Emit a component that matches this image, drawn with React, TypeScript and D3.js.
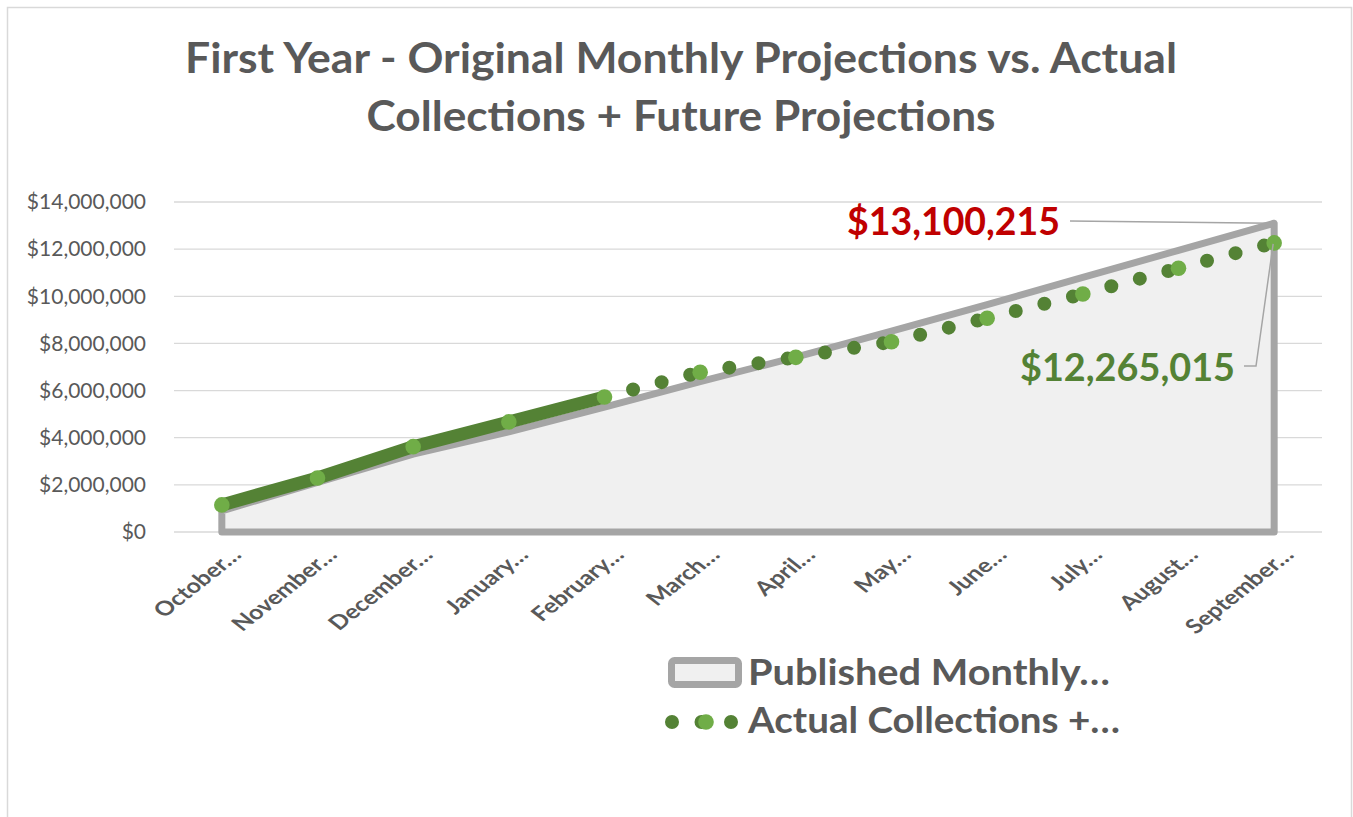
import React from "react";
import * as d3 from "d3";

const months = [
  "October…",
  "November…",
  "December…",
  "January…",
  "February…",
  "March…",
  "April…",
  "May…",
  "June…",
  "July…",
  "August…",
  "September…",
];

// Published monthly projections (cumulative)
const published = [
  900000, 2100000, 3300000, 4250000, 5300000, 6380000, 7420000, 8520000,
  9650000, 10800000, 11950000, 13100215,
];

// Actual collections + future projections (cumulative)
const actual = [
  1150000, 2290000, 3620000, 4670000, 5730000, 6780000, 7410000, 8070000,
  9070000, 10100000, 11190000, 12265015,
];

// number of months that are actual collections (solid line)
const actualMonths = 5;

const yTicks = [0, 2000000, 4000000, 6000000, 8000000, 10000000, 12000000, 14000000];

const titleLines = [
  "First Year - Original Monthly Projections vs. Actual",
  "Collections + Future Projections",
];
const legendLabels = ["Published Monthly…", "Actual Collections +…"];

const GRAY = "#A5A5A5";
const DARK_GREEN = "#548235";
const LIGHT_GREEN = "#70AD47";
const TEXT = "#595959";
const FONT = "Lato, 'Open Sans', sans-serif";

export default function App() {
  const W = 1353;
  const H = 817;
  const x = d3.scalePoint<string>().domain(months).range([174, 1322]).padding(0.5);
  const y = d3.scaleLinear().domain([0, 14000000]).range([532, 202]);
  const fmt = (v: number) => "$" + d3.format(",")(v);

  const areaGen = d3
    .area<number>()
    .x((_, i) => x(months[i]) as number)
    .y0(y(0))
    .y1((d) => y(d));
  const lineGen = d3
    .line<number>()
    .x((_, i) => x(months[i]) as number)
    .y((d) => y(d));

  const solidPts = actual.slice(0, actualMonths);
  const solidPath = lineGen(solidPts) as string;

  // dotted segments, each drawn separately (pattern restarts per segment)
  const dotSegs: string[] = [];
  for (let i = actualMonths - 1; i < actual.length - 1; i++) {
    const x0 = x(months[i]) as number;
    const x1 = x(months[i + 1]) as number;
    dotSegs.push(`M${x0},${y(actual[i])}L${x1},${y(actual[i + 1])}`);
  }

  const lastIdx = months.length - 1;
  const lastX = x(months[lastIdx]) as number;
  const pubLastY = y(published[lastIdx]);
  const actLastY = y(actual[lastIdx]);

  return (
    <svg
      width={W}
      height={H}
      style={{ position: "absolute", left: 0, top: 0, display: "block", background: "#fff" }}
      fontFamily={FONT}
    >
      <rect x={7.5} y={7.5} width={1344} height={830} fill="#fff" stroke="#D9D9D9" strokeWidth={1.5} />

      {/* title */}
      <text x={681} y={73} textAnchor="middle" fontSize={42} fontWeight="bold" fill={TEXT} textLength={992} lengthAdjust="spacingAndGlyphs">
        {titleLines[0]}
      </text>
      <text x={681} y={131} textAnchor="middle" fontSize={42} fontWeight="bold" fill={TEXT} textLength={629} lengthAdjust="spacingAndGlyphs">
        {titleLines[1]}
      </text>

      {/* gridlines & y-axis labels */}
      {yTicks.map((t) => (
        <g key={t}>
          <line x1={174} x2={1322} y1={y(t)} y2={y(t)} stroke="#D9D9D9" strokeWidth={1.3} />
          <text x={146} y={y(t)} dy="0.35em" textAnchor="end" fontSize={21} fill={TEXT}>
            {fmt(t)}
          </text>
        </g>
      ))}

      {/* published area */}
      <path d={areaGen(published) as string} fill="#F0F0F0" stroke={GRAY} strokeWidth={7} strokeLinejoin="round" />

      {/* actual solid line */}
      <path d={solidPath} fill="none" stroke={DARK_GREEN} strokeWidth={13} strokeLinecap="round" strokeLinejoin="round" />

      {/* projected dotted line */}
      {dotSegs.map((d, i) => (
        <path key={i} d={d} fill="none" stroke={DARK_GREEN} strokeWidth={14} strokeLinecap="round" strokeDasharray="0 29.5" />
      ))}

      {/* markers */}
      {actual.map((v, i) => (
        <circle key={i} cx={x(months[i]) as number} cy={y(v)} r={7.8} fill={LIGHT_GREEN} />
      ))}

      {/* x labels */}
      {months.map((m) => (
        <text
          key={m}
          transform={`translate(${(x(m) as number) + 21},556) scale(1.26,1) rotate(-45)`}
          textAnchor="end"
          fontSize={20}
          fontWeight="bold"
          fill={TEXT}
        >
          {m}
        </text>
      ))}

      {/* data labels */}
      <polyline points={`1070,221 ${lastX - 1},${pubLastY}`} fill="none" stroke={GRAY} strokeWidth={1.5} />
      <text x={847} y={235} fontSize={39} fontWeight="bold" fill="#C00000" textLength={213} lengthAdjust="spacingAndGlyphs">
        {fmt(published[lastIdx])}
      </text>
      <polyline points={`1244,366 1256,366 ${lastX - 1},${actLastY + 1}`} fill="none" stroke={GRAY} strokeWidth={1.5} />
      <text x={1020} y={381} fontSize={39} fontWeight="bold" fill={DARK_GREEN} textLength={215} lengthAdjust="spacingAndGlyphs">
        {fmt(actual[lastIdx])}
      </text>

      {/* legend */}
      <rect x={671.5} y={660.5} width={67} height={24} rx={3} fill="#F0F0F0" stroke={GRAY} strokeWidth={7} />
      <text x={748} y={685} fontSize={37} fontWeight="bold" fill={TEXT} textLength={362} lengthAdjust="spacingAndGlyphs">
        {legendLabels[0]}
      </text>
      <path d="M672,722L732,722" stroke={DARK_GREEN} strokeWidth={14} strokeLinecap="round" strokeDasharray="0 29.5" fill="none" />
      <circle cx={706} cy={722} r={7.8} fill={LIGHT_GREEN} />
      <text x={748} y={733} fontSize={37} fontWeight="bold" fill={TEXT} textLength={372} lengthAdjust="spacingAndGlyphs">
        {legendLabels[1]}
      </text>
    </svg>
  );
}
